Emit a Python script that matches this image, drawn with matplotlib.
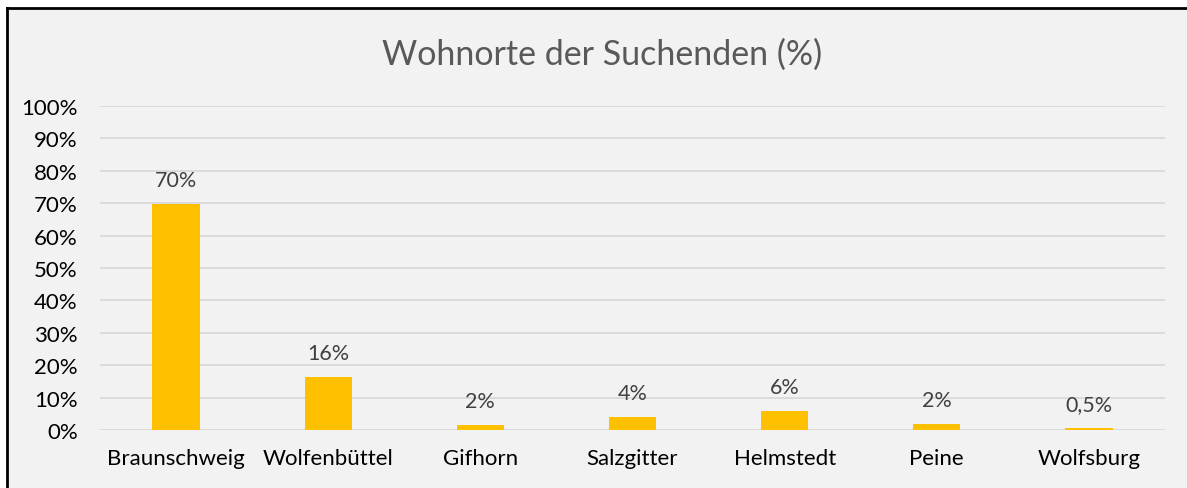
import matplotlib.pyplot as plt
from matplotlib.lines import Line2D
from matplotlib.patches import Rectangle

orte = ["Braunschweig", "Wolfenbüttel", "Gifhorn", "Salzgitter",
        "Helmstedt", "Peine", "Wolfsburg"]
anteil = [69.7, 16.4, 1.6, 4.1, 5.8, 1.9, 0.5]
beschriftung = ["70%", "16%", "2%", "4%", "6%", "2%", "0,5%"]
y_ticks = [0, 10, 20, 30, 40, 50, 60, 70, 80, 90, 100]

plt.rcParams['font.family'] = ['Lato', 'DejaVu Sans']

W, H = 1187, 489
fig = plt.figure(figsize=(W / 100, H / 100), dpi=100)
fig.patch.set_facecolor("white")

# grauer Hintergrund mit schwarzem Rand oben und links
x0, y0 = 7 / W, 1 - 9 / H
fig.patches.append(Rectangle((x0, 0), 1 - x0, y0, transform=fig.transFigure,
                             facecolor="#f2f2f2", edgecolor="none", zorder=-2))
fig.lines.append(Line2D([x0, x0], [0, y0], transform=fig.transFigure,
                        color="black", lw=2, zorder=-1))
fig.lines.append(Line2D([x0, 1], [y0, y0], transform=fig.transFigure,
                        color="black", lw=2, zorder=-1))

ax = fig.add_axes([100 / W, 1 - 431 / H, (1165 - 100) / W, (431 - 107) / H])
ax.set_zorder(1)
ax.set_facecolor("none")

x = range(len(orte))
bars = ax.bar(x, anteil, width=0.31, color="#ffc000", zorder=3)
for rect, txt in zip(bars, beschriftung):
    ax.annotate(txt, (rect.get_x() + rect.get_width() / 2, rect.get_height()),
                xytext=(0, 10), textcoords="offset points",
                ha="center", va="bottom", fontsize=15.5, color="#404040")

ax.set_xlim(-0.5, len(orte) - 0.5)
ax.set_ylim(0, 100)
ax.set_yticks(y_ticks)
ax.set_yticklabels([f"{v}%" for v in y_ticks])
ax.set_xticks(list(x))
ax.set_xticklabels(orte)
ax.tick_params(axis="both", length=0, labelsize=16, colors="black")
ax.tick_params(axis="y", pad=16)
ax.tick_params(axis="x", pad=13)
ax.grid(axis="y", color="#d9d9d9", lw=1.3, zorder=0)
for s in ax.spines.values():
    s.set_visible(False)

fig.text(602 / W, 1 - 55 / H, "Wohnorte der Suchenden (%)",
         ha="center", va="center", fontsize=24.5, color="#595959")

fig.savefig("out.png", dpi=100)
